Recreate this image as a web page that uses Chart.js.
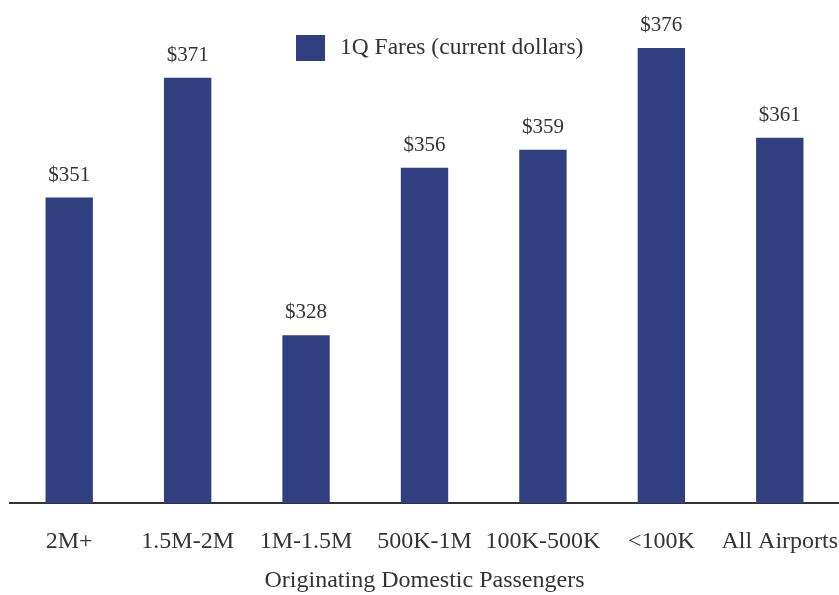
<!DOCTYPE html>
<html>
<head>
<meta charset="utf-8">
<script src="https://cdn.jsdelivr.net/npm/chart.js@4/dist/chart.umd.min.js"></script>
<style>
    html, body { margin: 0; padding: 0; background: #fff; overflow: hidden; }
    #wrap { width: 839px; height: 595px; position: relative; }
</style>
</head>
<body>
<div id="wrap"><canvas id="faresChart"></canvas></div>
<script>
// Данные графика
const categories = ['2M+', '1.5M-2M', '1M-1.5M', '500K-1M', '100K-500K', '<100K', 'All Airports'];
const fares = [351, 371, 328, 356, 359, 376, 361];
const seriesLabel = '1Q Fares (current dollars)';
const axisTitle = 'Originating Domestic Passengers';

const barColor = '#2f3f80';
const textColor = '#333333';
const serif = "'Liberation Serif', 'Times New Roman', serif";

// Подписи значений над столбцами
const valueLabels = {
    id: 'valueLabels',
    afterDatasetsDraw(chart) {
        const ctx = chart.ctx;
        const meta = chart.getDatasetMeta(0);
        ctx.save();
        ctx.font = '21px ' + serif;
        ctx.fillStyle = textColor;
        ctx.textAlign = 'center';
        ctx.textBaseline = 'alphabetic';
        meta.data.forEach((bar, i) => {
            ctx.fillText('$' + fares[i], bar.x, bar.y - 17);
        });
        ctx.restore();
    }
};

// Легенда внутри области графика
const innerLegend = {
    id: 'innerLegend',
    afterDraw(chart) {
        const ctx = chart.ctx;
        const area = chart.chartArea;
        const x = area.left + 286;
        const y = area.top + 35;
        ctx.save();
        ctx.fillStyle = barColor;
        ctx.fillRect(x, y, 29, 26);
        ctx.font = '23.5px ' + serif;
        ctx.fillStyle = textColor;
        ctx.textAlign = 'left';
        ctx.textBaseline = 'middle';
        ctx.fillText(seriesLabel, x + 44, y + 13);
        ctx.restore();
    }
};

function initFaresChart() {
    const ctx = document.getElementById('faresChart').getContext('2d');
    new Chart(ctx, {
        type: 'bar',
        data: {
            labels: categories,
            datasets: [{
                label: seriesLabel,
                data: fares,
                backgroundColor: barColor,
                borderWidth: 0,
                categoryPercentage: 1.0,
                barPercentage: 0.4
            }]
        },
        options: {
            responsive: true,
            maintainAspectRatio: false,
            animation: false,
            layout: {
                padding: { left: 10, right: 0, top: 0, bottom: 0 }
            },
            scales: {
                x: {
                    grid: { display: false, drawTicks: false },
                    border: { display: true, color: '#333', width: 2 },
                    ticks: {
                        color: textColor,
                        font: { family: serif, size: 24 },
                        padding: 24,
                        minRotation: 0,
                        maxRotation: 0,
                        autoSkip: false
                    },
                    title: {
                        display: true,
                        text: axisTitle,
                        color: textColor,
                        font: { family: serif, size: 24 },
                        padding: { top: 0, bottom: 0 }
                    },
                    // фиксируем высоту оси и убираем лишние поля по краям
                    afterFit(scale) {
                        scale.height = 92;
                        scale.paddingLeft = 0;
                        scale.paddingRight = 0;
                    }
                },
                y: {
                    display: false,
                    min: 300,
                    max: 384
                }
            },
            plugins: {
                legend: { display: false },
                tooltip: { enabled: false }
            }
        },
        plugins: [valueLabels, innerLegend]
    });
}

document.addEventListener('DOMContentLoaded', () => {
    initFaresChart();
});
</script>
</body>
</html>
